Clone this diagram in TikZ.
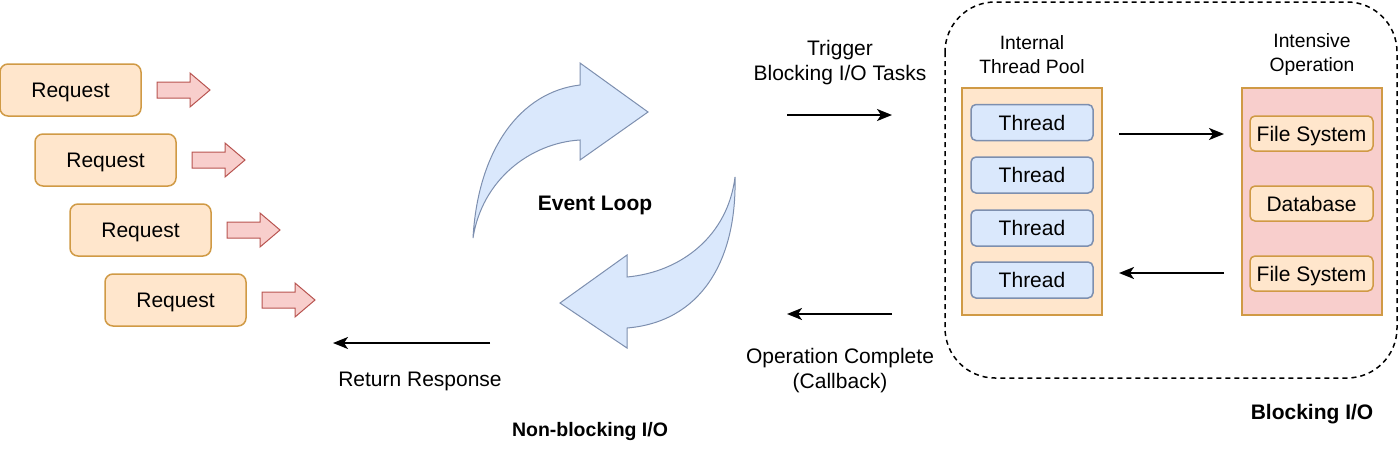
\documentclass[tikz,border=0pt]{standalone}
\usepackage{fontspec}
\setmainfont{Liberation Sans}
\usetikzlibrary{arrows.meta}
\definecolor{orfill}{HTML}{FFE6CC}
\definecolor{orline}{HTML}{D09A45}
\definecolor{rdfill}{HTML}{F8CECC}
\definecolor{rdline}{HTML}{B85450}
\definecolor{blfill}{HTML}{DAE8FC}
\definecolor{blline}{HTML}{7D8FAF}
\tikzset{
  boxtext/.style={font=\fontsize{21}{25}\selectfont, text height=15pt, text depth=0pt, inner sep=0pt},
  reqbox/.style={boxtext, draw=orline, fill=orfill, line width=1.5pt, rounded corners=8pt, minimum width=141pt, minimum height=52pt},
  threadbox/.style={boxtext, draw=blline, fill=blfill, line width=1.5pt, rounded corners=5pt, minimum width=122pt, minimum height=36pt},
  opbox/.style={boxtext, draw=orline, fill=orfill, line width=1.5pt, rounded corners=5pt, minimum width=123pt, minimum height=35pt},
  panel/.style={draw=orline, line width=1.5pt, inner sep=0pt},
  fatarrow/.style={draw=rdline, fill=rdfill, line width=1pt, line join=miter},
  loopshape/.style={draw=blline, fill=blfill, line width=1pt, line join=miter},
  conn/.style={line width=2pt, -{Stealth[length=15pt,width=12pt,inset=4pt]}},
  lbl/.style={align=center, font=\fontsize{21}{25}\selectfont, inner sep=0pt},
  blbl/.style={align=center, font=\bfseries\fontsize{21}{25}\selectfont, inner sep=0pt},
  hlbl/.style={align=center, font=\fontsize{19.3}{24}\selectfont, inner sep=0pt},
}
\begin{document}
\begin{tikzpicture}[x=1pt,y=-1pt]
\useasboundingbox (0,0) rectangle (1400,451);

% Requests
\node[reqbox] (r1) at (70.5,90) {Request};
\node[reqbox] (r2) at (105.5,160) {Request};
\node[reqbox] (r3) at (140.5,230) {Request};
\node[reqbox] (r4) at (175.5,300) {Request};

% small arrows
\foreach \i/\x/\y in {1/157/90, 2/192/160, 3/227/230, 4/262/300}{
  \draw[fatarrow] (\x,\y-8) -- (\x+33,\y-8) -- (\x+33,\y-17) -- (\x+53,\y) -- (\x+33,\y+17) -- (\x+33,\y+8) -- (\x,\y+8) -- cycle;
}

% Event loop curved arrows
\draw[loopshape] (473,238) .. controls (478,150) and (520,92) .. (580,85) -- (580,63) -- (648,112) -- (580,160) -- (580,140) .. controls (530,143) and (482,180) .. (473,238) -- cycle;
\draw[loopshape] (735,177) .. controls (737,262) and (700,322) .. (627,328) -- (627,348) -- (560,303) -- (627,255) -- (627,277) .. controls (682,272) and (728,235) .. (735,177) -- cycle;
\node[blbl] (ev) at (595,205) {Event Loop};

% Return response
\coordinate (rrs) at (490,343);
\coordinate (rre) at (333,343);
\draw[conn] (rrs) -- (rre);
\node[lbl] (rr) at (420,381) {Return Response};
\node[blbl, font=\bfseries\fontsize{19.5}{24}\selectfont] (nb) at (590,431) {Non-blocking I/O};

% Trigger
\node[lbl] (trig) at (840,63) {Trigger\\Blocking I/O Tasks};
\coordinate (ts) at (787,115);
\coordinate (te) at (892,115);
\draw[conn] (ts) -- (te);
\coordinate (os) at (892,314);
\coordinate (oe) at (787,314);
\draw[conn] (os) -- (oe);
\node[lbl] (opc) at (840,371) {Operation Complete\\(Callback)};

% Dashed container
\draw[line width=1.5pt, dash pattern=on 5pt off 4pt, rounded corners=50pt] (945,2) rectangle (1397,378);

% Thread pool
\node[hlbl] (tpl) at (1032,55) {Internal\\Thread Pool};
\node[panel, fill=orfill, minimum width=140pt, minimum height=227pt] (tp) at (1032,201.5) {};
\node[threadbox] (t1) at (1032,122.5) {Thread};
\node[threadbox] (t2) at (1032,175) {Thread};
\node[threadbox] (t3) at (1032,228) {Thread};
\node[threadbox] (t4) at (1032,280) {Thread};

% Intensive operation
\node[hlbl] (iol) at (1312,55) {Intensive\\Operation};
\node[panel, fill=rdfill, minimum width=140pt, minimum height=227pt] (io) at (1312,201.5) {};
\node[opbox] (f1) at (1311.5,133.5) {File System};
\node[opbox] (db) at (1311.5,203.5) {Database};
\node[opbox] (f2) at (1311.5,273.5) {File System};

\coordinate (a1) at (1119,134);
\coordinate (a2) at (1224,134);
\coordinate (b1) at (1224,273);
\coordinate (b2) at (1119,273);
\draw[conn] (a1) -- (a2);
\draw[conn] (b1) -- (b2);
\node[blbl] (bio) at (1312,414) {Blocking I/O};
\end{tikzpicture}
\end{document}
